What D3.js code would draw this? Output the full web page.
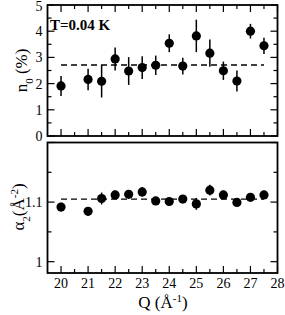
<!DOCTYPE html>
<html><head><meta charset="utf-8">
<script src="https://cdn.jsdelivr.net/npm/d3@7"></script>
<style>body{margin:0;background:#fff}svg{display:block}text{font-family:"Liberation Serif","Times New Roman",serif;fill:#000}</style>
</head><body><svg id="c" width="285" height="315"></svg>
<script>
const Q = [20,21,21.5,22,22.5,23,23.5,24,24.5,25,25.5,26,26.5,27,27.5];
const n0 = [1.91,2.16,2.09,2.94,2.48,2.61,2.70,3.54,2.67,3.82,3.16,2.49,2.10,4.00,3.44];
const n0Err = [0.38,0.41,0.62,0.44,0.53,0.43,0.37,0.34,0.32,0.62,0.52,0.35,0.40,0.28,0.31];
const a2 = [1.0917,1.0845,1.106,1.112,1.113,1.117,1.102,1.101,1.105,1.097,1.120,1.112,1.0995,1.108,1.112];
const a2Err = [0.007,0.007,0.010,0.007,0.006,0.008,0.006,0.006,0.006,0.010,0.009,0.007,0.006,0.005,0.005];
const n0Mean = 2.71, a2Mean = 1.105;
const xTicks = [20,21,22,23,24,25,26,27,28];
const n0Ticks = [0,1,2,3,4,5];
const a2Ticks = [1,1.1];

const svg = d3.select("#c");
const L = 47.5, R = 277.5;
const x = d3.scaleLinear().domain([19.5,28]).range([L,R]);
const yTop = d3.scaleLinear().domain([0,5]).range([136,5]);
const yBot = d3.scaleLinear().domain([0.981,1.2]).range([273,142.5]);

function panel(y, vals, errs, mean, majorY, minorY, opts){
  const g = svg.append("g");
  const [y0,y1] = y.range();
  const xMinor = d3.range(20,28,0.5).filter(v=>v%1!==0);
  const tk = g.append("g").attr("stroke","#000").attr("stroke-width",1.2);
  xTicks.forEach(v=>{ tk.append("line").attr("x1",x(v)).attr("x2",x(v)).attr("y1",y0).attr("y2",y0-7); });
  xMinor.forEach(v=>{ tk.append("line").attr("x1",x(v)).attr("x2",x(v)).attr("y1",y0).attr("y2",y0-4); });
  if(opts.topTicks){
    xTicks.forEach(v=>{ tk.append("line").attr("x1",x(v)).attr("x2",x(v)).attr("y1",y1).attr("y2",y1+7); });
    xMinor.forEach(v=>{ tk.append("line").attr("x1",x(v)).attr("x2",x(v)).attr("y1",y1).attr("y2",y1+4); });
  }
  majorY.forEach(v=>{
    tk.append("line").attr("x1",L).attr("x2",L+7).attr("y1",y(v)).attr("y2",y(v));
    tk.append("line").attr("x1",R).attr("x2",R-7).attr("y1",y(v)).attr("y2",y(v));
  });
  minorY.forEach(v=>{
    tk.append("line").attr("x1",L).attr("x2",L+4).attr("y1",y(v)).attr("y2",y(v));
    tk.append("line").attr("x1",R).attr("x2",R-4).attr("y1",y(v)).attr("y2",y(v));
  });
  opts.labels.forEach(v=>{
    g.append("text").attr("x",L-5).attr("y",Math.max(y(v),6.5)).attr("dy","0.35em").attr("text-anchor","end")
     .attr("font-size",14).text(opts.fmt(v));
  });
  g.append("line").attr("x1",x(20)).attr("x2",x(27.5)).attr("y1",y(mean)).attr("y2",y(mean))
   .attr("stroke","#000").attr("stroke-width",1.4).attr("stroke-dasharray","6,4");
  g.append("g").selectAll("line").data(Q).join("line")
   .attr("x1",d=>x(d)).attr("x2",d=>x(d))
   .attr("y1",(d,i)=>y(vals[i]-errs[i])).attr("y2",(d,i)=>y(vals[i]+errs[i]))
   .attr("stroke","#000").attr("stroke-width",1.5);
  g.append("g").selectAll("circle").data(Q).join("circle")
   .attr("cx",d=>x(d)).attr("cy",(d,i)=>y(vals[i])).attr("r",4.6).attr("fill","#000");
  g.append("rect").attr("x",L).attr("y",y1).attr("width",R-L).attr("height",y0-y1)
   .attr("fill","none").attr("stroke","#000").attr("stroke-width",1.8);
}

panel(yTop, n0, n0Err, n0Mean, n0Ticks, d3.range(0.5,5,1), {topTicks:true, labels:n0Ticks, fmt:d=>String(d)});
panel(yBot, a2, a2Err, a2Mean, [1,1.1,1.2], [1.05,1.15], {topTicks:false, labels:a2Ticks, fmt:d=>d===1?"1":"1.1"});

svg.append("g").selectAll("text").data(xTicks).join("text")
  .attr("x",d=>x(d)).attr("y",288).attr("text-anchor","middle").attr("font-size",14).text(d=>d);

svg.append("text").attr("x",50).attr("y",30).attr("font-size",15).attr("font-weight","bold").text("T=0.04 K");

const xl = svg.append("text").attr("x",163).attr("y",308).attr("text-anchor","middle").attr("font-size",17);
xl.append("tspan").text("Q (Å");
xl.append("tspan").attr("baseline-shift","super").attr("font-size",11).text("-1");
xl.append("tspan").text(")");

const yl1 = svg.append("text").attr("transform","translate(27,70.5) rotate(-90)").attr("text-anchor","middle").attr("font-size",17);
yl1.append("tspan").text("n");
yl1.append("tspan").attr("baseline-shift","sub").attr("font-size",11).text("0");
yl1.append("tspan").attr("baseline-shift","0").text(" (%)");

const yl2 = svg.append("text").attr("transform","translate(24,207) rotate(-90)").attr("text-anchor","middle").attr("font-size",17);
yl2.append("tspan").text("α");
yl2.append("tspan").attr("baseline-shift","sub").attr("font-size",11).text("2");
yl2.append("tspan").text("(Å");
yl2.append("tspan").attr("baseline-shift","super").attr("font-size",11).text("-2");
yl2.append("tspan").text(")");
</script></body></html>
